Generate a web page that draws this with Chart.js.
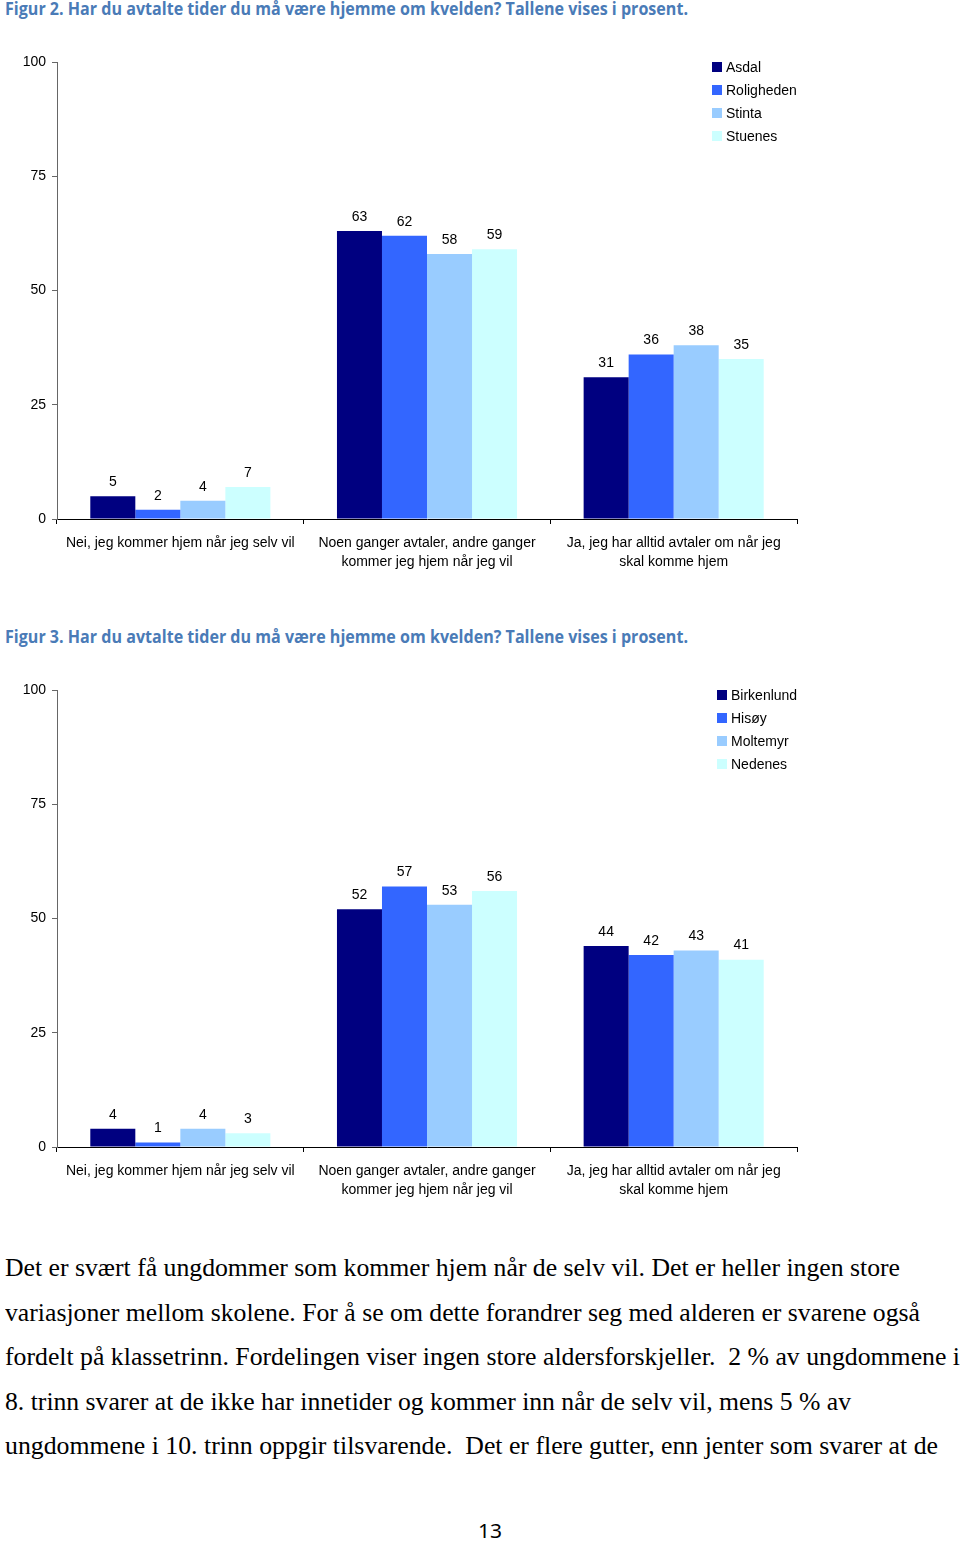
<!DOCTYPE html>
<html lang="no">
<head>
<meta charset="utf-8">
<script src="https://cdn.jsdelivr.net/npm/chart.js@4.4.1/dist/chart.umd.min.js"></script>
<style>
  html, body { margin:0; padding:0; background:#fff; }
  body { width:960px; height:1541px; position:relative; overflow:hidden; }
  .fig-title { position:absolute; left:5px; font-family:'Open Sans','Noto Sans',sans-serif; font-weight:700;
               font-size:17px; color:#4a7bb7; white-space:nowrap; transform-origin:0 50%; line-height:20px; }
  .chart-box { position:absolute; left:0; width:960px; height:540px; }
  .para { position:absolute; left:5px; font-family:'Liberation Serif','DejaVu Serif',serif; font-size:25px;
          color:#000; white-space:pre; transform-origin:0 50%; line-height:30px; }
  .pagenum { position:absolute; left:478px; top:1519px; font-family:'Noto Sans',sans-serif; font-size:20px;
             line-height:24px; transform-origin:0 50%; }
</style>
</head>
<body>

<div class="fig-title" id="t1" data-w="683" style="top:-1px">Figur 2. Har du avtalte tider du må være hjemme om kvelden? Tallene vises i prosent.</div>
<div class="chart-box" style="top:40px"><canvas id="chart1" width="960" height="540"></canvas></div>

<div class="fig-title" id="t2" data-w="683" style="top:627px">Figur 3. Har du avtalte tider du må være hjemme om kvelden? Tallene vises i prosent.</div>
<div class="chart-box" style="top:668px"><canvas id="chart2" width="960" height="540"></canvas></div>

<div id="text"></div>
<div class="pagenum" id="pg" data-w="24">13</div>

<script>
// ─── Data ─────────────────────────────────────────────────────
const categories = [
  'Nei, jeg kommer hjem når jeg selv vil',
  ['Noen ganger avtaler, andre ganger', 'kommer jeg hjem når jeg vil'],
  ['Ja, jeg har alltid avtaler om når jeg', 'skal komme hjem'],
];
const yTicks = [0, 25, 50, 75, 100];

const schools1 = ['Asdal', 'Roligheden', 'Stinta', 'Stuenes'];
const asdal      = [5, 63, 31];
const roligheden = [2, 62, 36];
const stinta     = [4, 58, 38];
const stuenes    = [7, 59, 35];

const schools2 = ['Birkenlund', 'Hisøy', 'Moltemyr', 'Nedenes'];
const birkenlund = [4, 52, 44];
const hisoy      = [1, 57, 42];
const moltemyr   = [4, 53, 43];
const nedenes    = [3, 56, 41];

const COLORS = ['#000080', '#3366ff', '#99ccff', '#ccffff'];

const paragraph = [
  'Det er svært få ungdommer som kommer hjem når de selv vil. Det er heller ingen store',
  'variasjoner mellom skolene. For å se om dette forandrer seg med alderen er svarene også',
  'fordelt på klassetrinn. Fordelingen viser ingen store aldersforskjeller.  2 % av ungdommene i',
  '8. trinn svarer at de ikke har innetider og kommer inn når de selv vil, mens 5 % av',
  'ungdommene i 10. trinn oppgir tilsvarende.  Det er flere gutter, enn jenter som svarer at de',
];
const paraWidths = [895, 915, 955, 846, 933];

const FONT = "'Liberation Sans', Arial, sans-serif";

// ── Value labels above bars ───────────────────────────────────
const valueLabels = {
  id: 'valueLabels',
  afterDatasetsDraw(chart) {
    const ctx = chart.ctx;
    ctx.save();
    ctx.font = '14px ' + FONT;
    ctx.fillStyle = '#000';
    ctx.textAlign = 'center';
    ctx.textBaseline = 'middle';
    chart.data.datasets.forEach((ds, i) => {
      chart.getDatasetMeta(i).data.forEach((bar, j) => {
        ctx.fillText(ds.data[j], bar.x, bar.y - 14);
      });
    });
    ctx.restore();
  }
};

// ── Legend drawn at a fixed spot ──────────────────────────────
const sideLegend = {
  id: 'sideLegend',
  afterDraw(chart, args, opts) {
    const ctx = chart.ctx;
    ctx.save();
    ctx.font = '14px ' + FONT;
    ctx.textBaseline = 'middle';
    ctx.textAlign = 'left';
    chart.data.datasets.forEach((ds, i) => {
      const y = opts.y + i * 23;
      ctx.fillStyle = ds.backgroundColor;
      ctx.fillRect(opts.x, y - 5, 10, 10);
      ctx.fillStyle = '#000';
      ctx.fillText(ds.label, opts.x + 14, y + 1);
    });
    ctx.restore();
  }
};

function makeChart(id, names, series, legendX) {
  return new Chart(document.getElementById(id), {
    type: 'bar',
    data: {
      labels: categories,
      datasets: names.map((n, i) => ({
        label: n,
        data: series[i],
        backgroundColor: COLORS[i],
        borderWidth: 0,
        categoryPercentage: 0.73,
        barPercentage: 1.0,
      })),
    },
    plugins: [valueLabels, sideLegend],
    options: {
      responsive: false,
      animation: false,
      layout: { padding: { top: 22, right: 163, left: 0, bottom: 0 } },
      plugins: {
        legend: { display: false },
        tooltip: { enabled: false },
        sideLegend: { x: legendX, y: 27 },
      },
      scales: {
        x: {
          grid: { offset: true, drawOnChartArea: false, tickLength: 5, color: '#000', lineWidth: 1 },
          border: { color: '#000', width: 1 },
          ticks: { font: { family: FONT, size: 14, lineHeight: 1.35 }, color: '#000', padding: 10, maxRotation: 0, autoSkip: false },
          afterFit(s) { s.height = 61; },
        },
        y: {
          min: 0, max: 100,
          afterBuildTicks(s) { s.ticks = yTicks.map(v => ({ value: v })); },
          grid: { drawOnChartArea: false, tickLength: 5, color: '#666' },
          border: { color: '#666', width: 1 },
          ticks: { font: { family: FONT, size: 14 }, color: '#000', padding: 6 },
          afterFit(s) { s.width = 57; },
        },
      },
    },
  });
}

makeChart('chart1', schools1, [asdal, roligheden, stinta, stuenes], 712);
makeChart('chart2', schools2, [birkenlund, hisoy, moltemyr, nedenes], 717);

// ── Body text ─────────────────────────────────────────────────
const textBox = document.getElementById('text');
paragraph.forEach((line, i) => {
  const d = document.createElement('div');
  d.className = 'para';
  d.style.top = (1253 + i * 44.6) + 'px';
  d.dataset.w = paraWidths[i];
  d.textContent = line;
  textBox.appendChild(d);
});

// squeeze text lines to the widths seen on the page
function fitAll() {
  document.querySelectorAll('[data-w]').forEach(el => {
    el.style.transform = '';
    const w = el.getBoundingClientRect().width;
    el.style.transform = 'scaleX(' + (parseFloat(el.dataset.w) / w) + ')';
  });
}
fitAll();
if (document.fonts) document.fonts.ready.then(fitAll);
</script>
</body>
</html>
